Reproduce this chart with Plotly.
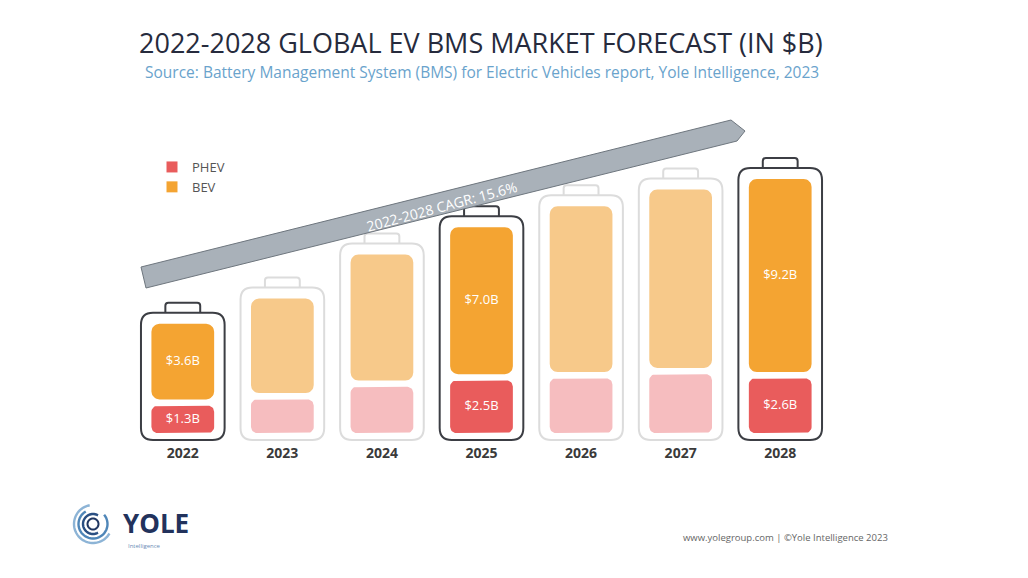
import plotly.graph_objects as go
import math

# ---------------- data ----------------
years = ["2022", "2023", "2024", "2025", "2026", "2027", "2028"]
bev = [3.6, 4.5, 6.0, 7.0, 7.9, 8.5, 9.2]
phev = [1.3, 1.6, 2.2, 2.5, 2.6, 2.8, 2.6]
highlight = [True, False, False, True, False, False, True]
bev_labels = ["$3.6B", "", "", "$7.0B", "", "", "$9.2B"]
phev_labels = ["$1.3B", "", "", "$2.5B", "", "", "$2.6B"]
cagr_text = "2022-2028 CAGR: 15.6%"

# ---------------- layout geometry ----------------
W, H = 1028, 578
L, R = 133, 830          # plot area in px
T, B = 100, 443
PXX = (R - L) / 7.0      # px per x unit
PXY = 21.0               # px per $B
Y0_PX = 433              # pixel of y=0
ymin = -(B - Y0_PX) / PXY
ymax = (Y0_PX - T) / PXY

def pdx(px):  # pixel x -> data x
    return (px - L) / PXX - 0.5

def pdy(py):  # pixel y -> data y
    return (Y0_PX - py) / PXY

def ppx(px):
    return (px - L) / (R - L)

def ppy(py):
    return (B - py) / (B - T)

BEV_C = "#F4A432"; BEV_L = "#F7C98A"
PHEV_C = "#E95C5C"; PHEV_L = "#F6BDBF"
OUT_D = "#3c3e44"; OUT_L = "#dcdcdc"
GAP = 0.3
BAR_W = 0.63
FONT = "Open Sans"

xs = list(range(len(years)))
bev_base = [p + GAP for p in phev]
phev_mid = [p / 2 for p in phev]
bev_mid = [b + v / 2 for b, v in zip(bev_base, bev)]

def rr_poly(x0, x1, y0, y1, r, n=8):
    rx, ry = r / PXX, r / PXY
    cs = [(x1 - rx, y1 - ry, 0), (x0 + rx, y1 - ry, 90),
          (x0 + rx, y0 + ry, 180), (x1 - rx, y0 + ry, 270)]
    px, py = [], []
    for cx, cy, a0 in cs:
        for k in range(n + 1):
            a = math.radians(a0 + 90 * k / n)
            px.append(cx + rx * math.cos(a))
            py.append(cy + ry * math.sin(a))
    px.append(px[0]); py.append(py[0])
    return px, py

fig = go.Figure()

def add_series(bases, vals, on, color, radius):
    X, Y = [], []
    for i in xs:
        if highlight[i] != on:
            continue
        px, py = rr_poly(i - BAR_W / 2, i + BAR_W / 2, bases[i], bases[i] + vals[i], radius)
        X += px + [None]; Y += py + [None]
    fig.add_trace(go.Scatter(x=X, y=Y, mode="lines", fill="toself",
                             fillcolor=color, line=dict(width=0, color=color),
                             showlegend=False, hoverinfo="skip"))

zeros = [0] * len(xs)
add_series(zeros, phev, True, PHEV_C, 6)
add_series(zeros, phev, False, PHEV_L, 6)
add_series(bev_base, bev, True, BEV_C, 8)
add_series(bev_base, bev, False, BEV_L, 8)

# legend entries
for nm, c in [("PHEV", PHEV_C), ("BEV", BEV_C)]:
    fig.add_trace(go.Scatter(x=[None], y=[None], mode="markers", name=nm,
                             marker=dict(symbol="square", size=11, color=c),
                             showlegend=True))

# value labels
fig.add_trace(go.Scatter(
    x=xs + xs, y=phev_mid + bev_mid, text=phev_labels + bev_labels,
    mode="text", textfont=dict(family=FONT, size=13, color="white"),
    showlegend=False, hoverinfo="skip"))

# ---------------- battery outlines ----------------
def rrect(x0, x1, y0, y1, r):
    rx, ry = r / PXX, r / PXY
    return (f"M{x0+rx},{y0} L{x1-rx},{y0} Q{x1},{y0} {x1},{y0+ry} "
            f"L{x1},{y1-ry} Q{x1},{y1} {x1-rx},{y1} L{x0+rx},{y1} "
            f"Q{x0},{y1} {x0},{y1-ry} L{x0},{y0+ry} Q{x0},{y0} {x0+rx},{y0} Z")

shapes = []
for i in xs:
    col = OUT_D if highlight[i] else OUT_L
    top = bev_base[i] + bev[i] + 11 / PXY
    bot = -7 / PXY
    shapes.append(dict(type="path", xref="x", yref="y", layer="below",
                       path=rrect(i - 0.42, i + 0.42, bot, top, 12),
                       line=dict(color=col, width=2), fillcolor="white"))
    cx0, cx1 = i - 0.175, i + 0.175
    ctop = top + 10 / PXY
    rx, ry = 3 / PXX, 3 / PXY
    cap = (f"M{cx0},{top} L{cx0},{ctop-ry} Q{cx0},{ctop} {cx0+rx},{ctop} "
           f"L{cx1-rx},{ctop} Q{cx1},{ctop} {cx1},{ctop-ry} L{cx1},{top}")
    shapes.append(dict(type="path", xref="x", yref="y", layer="below",
                       path=cap, line=dict(color=col, width=2)))

# ---------------- CAGR arrow ----------------
arrow_px = [(141, 267), (731, 120), (745, 131), (737, 141), (146, 288)]
apath = "M" + " L".join(f"{pdx(a)},{pdy(b)}" for a, b in arrow_px) + " Z"
shapes.append(dict(type="path", xref="x", yref="y", layer="below", path=apath,
                   fillcolor="#a9b1b9", line=dict(color="#6e767e", width=1)))

# ---------------- logo rings ----------------
def arc(cx, cy, r, a0, a1, n=40):
    pts = []
    for k in range(n + 1):
        a = math.radians(a0 + (a1 - a0) * k / n)
        pts.append((ppx(cx + r * math.cos(a)), ppy(cy - r * math.sin(a))))
    return "M" + " L".join(f"{x},{y}" for x, y in pts)

ring_specs = [(19, 100, 330, "#8db4d6", 2.4), (14.5, 120, 400, "#4f86b8", 2.4),
              (10, 60, 300, "#2a4f82", 2.4), (5.5, 0, 360, "#1f3560", 2.0)]
for r, a0, a1, c, w in ring_specs:
    shapes.append(dict(type="path", xref="paper", yref="paper",
                       path=arc(93, 524, r, a0, a1), line=dict(color=c, width=w)))

# ---------------- annotations ----------------
ann = []
ann.append(dict(x=ppx(481), y=ppy(43), xref="paper", yref="paper", showarrow=False,
                text="2022-2028 GLOBAL EV BMS MARKET FORECAST (IN $B)",
                font=dict(family=FONT, size=27, color="#262b3d"),
                xanchor="center", yanchor="middle"))
ann.append(dict(x=ppx(482), y=ppy(72), xref="paper", yref="paper", showarrow=False,
                text="Source: Battery Management System (BMS) for Electric Vehicles report, Yole Intelligence, 2023",
                font=dict(family=FONT, size=15.5, color="#6aa3cc"),
                xanchor="center", yanchor="middle"))
ann.append(dict(x=pdx(441), y=pdy(206), xref="x", yref="y", showarrow=False,
                text=cagr_text, textangle=-15,
                font=dict(family=FONT, size=14, color="white")))
ann.append(dict(x=ppx(121), y=ppy(523), xref="paper", yref="paper", showarrow=False,
                text="<b>YOLE</b>", font=dict(family=FONT, size=26, color="#22325c"),
                xanchor="left", yanchor="middle"))
ann.append(dict(x=ppx(126), y=ppy(546), xref="paper", yref="paper", showarrow=False,
                text="Intelligence", font=dict(family=FONT, size=6, color="#6a8bb5"),
                xanchor="left", yanchor="middle"))
ann.append(dict(x=ppx(890), y=ppy(537), xref="paper", yref="paper", showarrow=False,
                text="www.yolegroup.com | ©Yole Intelligence 2023",
                font=dict(family=FONT, size=9.5, color="#666666"),
                xanchor="right", yanchor="middle"))

fig.update_layout(
    width=W, height=H,
    margin=dict(l=L, r=W - R, t=T, b=H - B, pad=0),
    paper_bgcolor="white", plot_bgcolor="white",
    shapes=shapes, annotations=ann,
    showlegend=True,
    legend=dict(x=ppx(152), y=ppy(152), xanchor="left", yanchor="top",
                font=dict(family=FONT, size=13, color="#555555"),
                itemwidth=30, tracegroupgap=0,
                bgcolor="rgba(0,0,0,0)", traceorder="normal", itemclick=False),
    xaxis=dict(range=[-0.5, 6.5], tickvals=xs, ticktext=years, showgrid=False,
               zeroline=False, showline=False, ticks="",
               tickfont=dict(family=FONT, size=14, color="#3a3a3a", weight="bold")),
    yaxis=dict(range=[ymin, ymax], visible=False, showgrid=False, zeroline=False),
    font=dict(family=FONT),
)

fig.write_html("out.html")
